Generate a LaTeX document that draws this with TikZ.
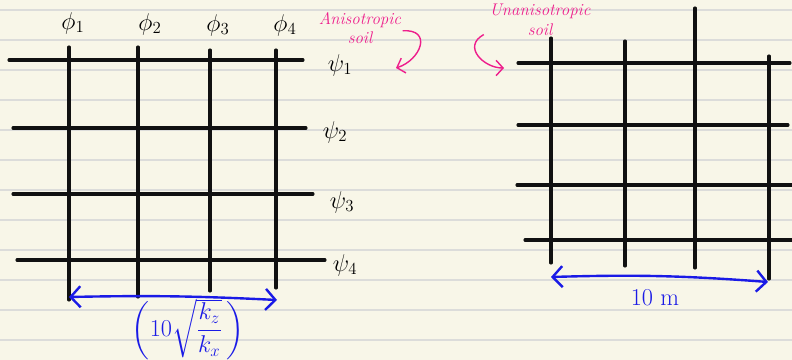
\documentclass[tikz,border=0pt]{standalone}
\usepackage{amsmath}
\usepackage{xcolor}
\usepackage{tikz}
\usetikzlibrary{positioning,arrows.meta,calc}
\definecolor{paper}{HTML}{F8F6E8}
\definecolor{rulec}{HTML}{DCDCDA}
\definecolor{ink}{HTML}{111111}
\definecolor{pen}{HTML}{1A1AE6}
\definecolor{hilite}{HTML}{EE1E8C}
\tikzset{
  gridln/.style={line width=2.2pt, color=ink, line cap=round},
  ruleln/.style={line width=0.9pt, color=rulec},
  dimarr/.style={{Straight Barb[length=7pt,width=15pt]}-{Straight Barb[length=7pt,width=15pt]},
                 line width=1.7pt, color=pen},
  note/.style={font=\itshape\large, text=hilite, align=center, inner sep=1pt},
  curl/.style={-{Straight Barb[length=5pt,width=11pt]}, line width=1pt, color=hilite},
  lbl/.style={font=\LARGE, inner sep=1pt},
  bluelbl/.style={font=\LARGE, text=pen, inner sep=1pt},
}

\begin{document}
\begin{tikzpicture}[x=0.025cm, y=-0.025cm]
  \fill[paper] (0,0) rectangle (792,360);
  \useasboundingbox (0,0) rectangle (792,360);
  \foreach \y in {10,40,...,340} \draw[ruleln] (0,\y) -- (792,\y);
  % anisotropic grid
  \foreach \y/\a/\b in {60/9/303, 128/13/306, 194/13/313, 260/17/325}
    \draw[gridln] (\a,\y) -- (\b,\y);
  \foreach \x/\a/\b in {69/47/300, 138/47/297, 210/50/291, 276/50/288}
    \draw[gridln] (\x,\a) -- (\x,\b);
  \foreach \i/\x/\y in {1/73/23, 2/150/24, 3/218/25, 4/285/25}
    \node[lbl] (phi\i) at (\x,\y) {$\phi_{\i}$};
  \foreach \i/\x/\y in {1/340/65, 2/335/132, 3/342/202, 4/345/265}
    \node[lbl] (psi\i) at (\x,\y) {$\psi_{\i}$};
  \coordinate (la) at (69,297);
  \coordinate (lb) at (277,300);
  \draw[dimarr] (la) to[bend left=2] (lb);
  \node[bluelbl] (kratio) at (188,329) {$\left(10\sqrt{\dfrac{k_z}{k_x}}\,\right)$};
  % isotropic grid
  \foreach \y/\a/\b in {63/518/790, 125/518/788, 185/517/792, 240/525/792}
    \draw[gridln] (\a,\y) -- (\b,\y);
  \foreach \x/\a/\b in {551/38/263, 625/41/266, 695/8/268, 769/56/279}
    \draw[gridln] (\x,\a) -- (\x,\b);
  \coordinate (ra) at (551,277);
  \coordinate (rb) at (768,282);
  \draw[dimarr] (ra) to[bend left=3] (rb);
  \node[bluelbl] (tenm) at (655,298) {10 m};
  % notes
  \node[note] (aniso) at (360,28) {Anisotropic\\soil};
  \coordinate (atip) at (396,68);
  \draw[curl] ([yshift=-2pt]aniso.east) .. controls +(30,-2) and +(25,-8) .. (atip);
  \node[note] (uniso) at (540,20) {Unanisotropic\\soil};
  \coordinate (utip) at (504,68);
  \draw[curl] ([xshift=-3pt,yshift=2pt]uniso.south west) .. controls +(-22,12) and +(-20,0) .. (utip);
\end{tikzpicture}
\end{document}
